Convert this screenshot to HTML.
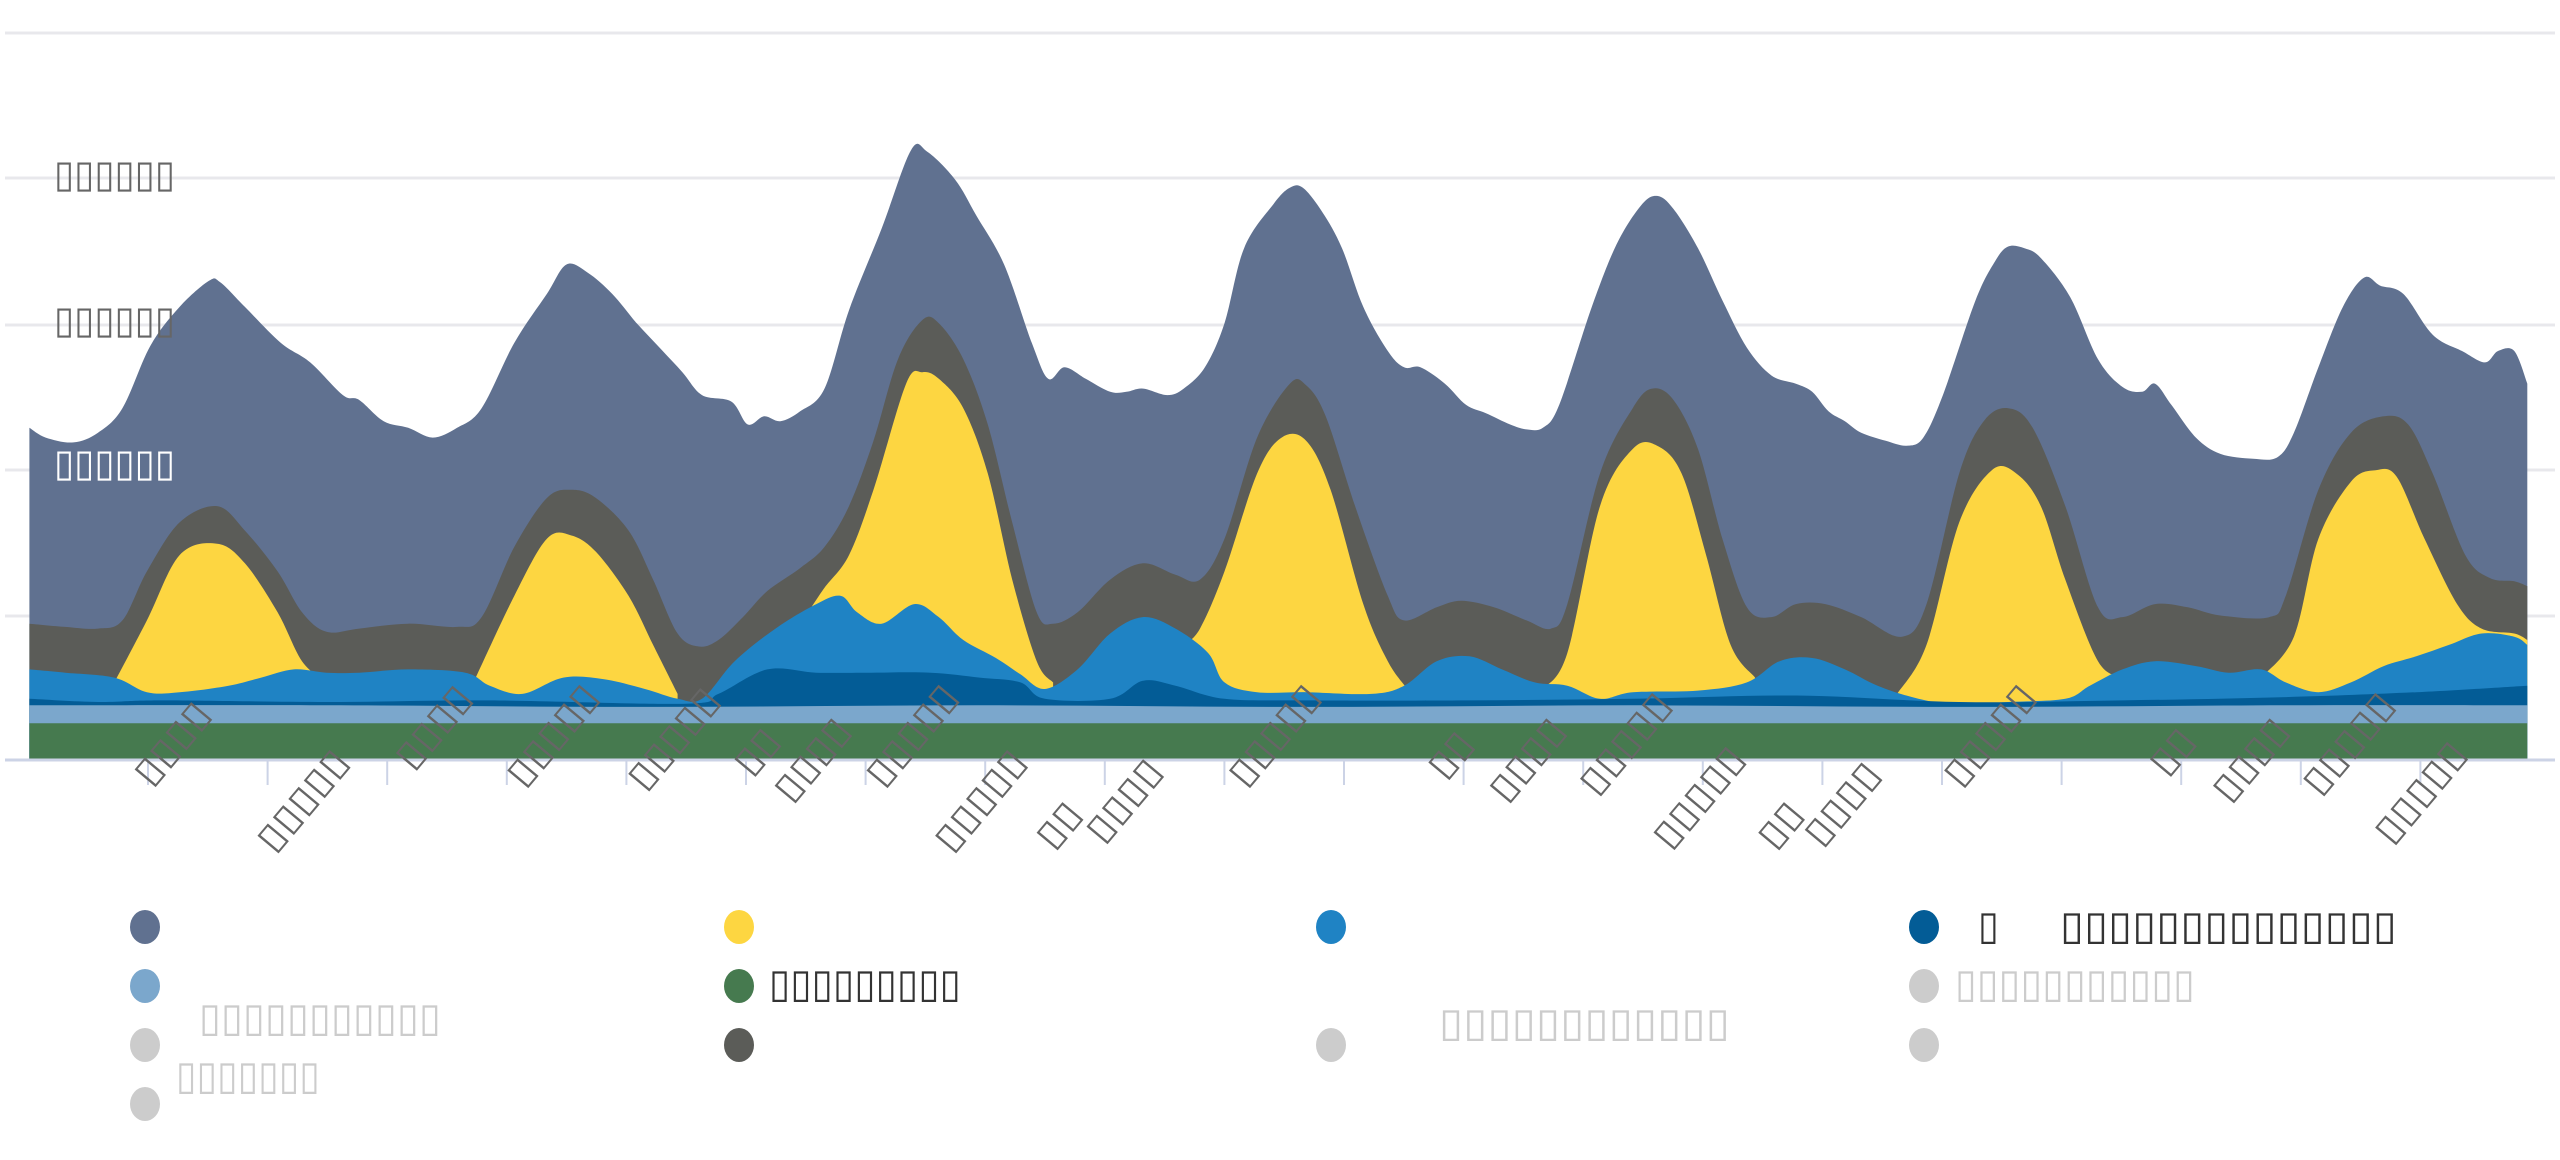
<!DOCTYPE html>
<html><head><meta charset="utf-8"><style>
html,body{margin:0;padding:0;background:#fff;width:2560px;height:1160px;overflow:hidden}
svg text{font-family:"DejaVu Sans","Liberation Sans",sans-serif}
</style></head><body>
<svg id="s" width="2560" height="1160" viewBox="0 0 2560 1160" xmlns="http://www.w3.org/2000/svg">
<g id="grid" stroke="#e8e8ec" stroke-width="3">
<line x1="5" y1="33" x2="2555" y2="33"/><line x1="5" y1="178" x2="2555" y2="178"/>
<line x1="5" y1="325" x2="2555" y2="325"/><line x1="5" y1="470" x2="2555" y2="470"/>
<line x1="5" y1="616" x2="2555" y2="616"/>
</g>
<g id="areas"></g>
<line x1="5" y1="760" x2="2555" y2="760" stroke="#ccd3e6" stroke-width="3"/>
<g id="ticks" stroke="#ccd3e6" stroke-width="2"></g>
<g fill="#666" font-size="38">
<text x="54" y="187" textLength="121" lengthAdjust="spacingAndGlyphs">▯▯▯▯▯▯</text>
<text x="54" y="333" textLength="121" lengthAdjust="spacingAndGlyphs">▯▯▯▯▯▯</text>
<text x="54" y="476" textLength="121" lengthAdjust="spacingAndGlyphs" fill="#fff">▯▯▯▯▯▯</text>
</g>
<g id="xl" fill="#666" font-size="36"></g>
<g id="legend">
<ellipse cx="145" cy="927" rx="15" ry="17" fill="#607190"/>
<ellipse cx="145" cy="986" rx="15" ry="17" fill="#7ba7cc"/>
<ellipse cx="145" cy="1045" rx="15" ry="17" fill="#ccc"/>
<ellipse cx="145" cy="1104" rx="15" ry="17" fill="#ccc"/>
<ellipse cx="739" cy="927" rx="15" ry="17" fill="#fdd641"/>
<ellipse cx="739" cy="986" rx="15" ry="17" fill="#467a4f"/>
<ellipse cx="739" cy="1045" rx="15" ry="17" fill="#5b5c58"/>
<ellipse cx="1331" cy="927" rx="15" ry="17" fill="#1f83c4"/>
<ellipse cx="1331" cy="1045" rx="15" ry="17" fill="#ccc"/>
<ellipse cx="1924" cy="927" rx="15" ry="17" fill="#035c96"/>
<ellipse cx="1924" cy="986" rx="15" ry="17" fill="#ccc"/>
<ellipse cx="1924" cy="1045" rx="15" ry="17" fill="#ccc"/>
<g font-size="40">
<text x="199" y="1031" fill="#ccc" textLength="242" lengthAdjust="spacingAndGlyphs">▯▯▯▯▯▯▯▯▯▯▯</text>
<text x="176" y="1089" fill="#ccc" textLength="144" lengthAdjust="spacingAndGlyphs">▯▯▯▯▯▯▯</text>
<text x="769" y="997" fill="#333" textLength="192" lengthAdjust="spacingAndGlyphs">▯▯▯▯▯▯▯▯▯</text>
<text x="1439" y="1036" fill="#ccc" textLength="291" lengthAdjust="spacingAndGlyphs">▯▯▯▯▯▯▯▯▯▯▯▯</text>
<text x="1978" y="939" fill="#333" textLength="21" lengthAdjust="spacingAndGlyphs">▯</text>
<text x="2060" y="939" fill="#333" textLength="337" lengthAdjust="spacingAndGlyphs">▯▯▯▯▯▯▯▯▯▯▯▯▯▯</text>
<text x="1955" y="997" fill="#ccc" textLength="240" lengthAdjust="spacingAndGlyphs">▯▯▯▯▯▯▯▯▯▯▯</text>
</g>
</g>
</svg>
<script>
var S=2560/1568,BASE=760;
function P(a){var r=[];for(var i=0;i<a.length;i+=2)r.push([a[i]*S,a[i+1]*S]);return r;}
var layers=[
["#607190",[18,262,28,268,45,271,60,265,75,250,92,212,110,188,128,172,135,173,150,188,172,210,190,222,210,242,220,245,235,258,250,262,265,268,280,262,295,250,315,210,335,180,347,162,360,167,375,180,390,198,405,214,418,228,430,242,448,246,458,260,468,255,478,258,490,252,505,238,520,190,540,140,558,92,568,93,585,110,598,132,615,162,632,210,642,232,652,225,665,232,680,240,690,240,700,238,715,242,725,238,738,225,750,198,762,152,780,125,790,115,798,115,810,130,822,152,835,188,850,215,860,225,870,225,885,235,898,248,910,253,925,260,935,263,945,262,955,248,975,188,990,150,1005,126,1015,120,1025,128,1040,152,1055,184,1070,213,1085,230,1100,235,1110,240,1120,252,1130,258,1140,265,1155,270,1168,273,1178,268,1190,242,1210,184,1222,160,1230,151,1240,152,1250,158,1268,182,1285,220,1300,237,1312,240,1320,235,1330,248,1345,268,1360,278,1380,281,1395,280,1405,265,1420,225,1435,188,1448,170,1458,175,1472,180,1490,205,1508,215,1522,222,1530,215,1540,215,1548,235]],
["#5b5c58",[18,382,40,384,60,385,75,380,90,350,110,320,133,310,150,325,170,350,185,375,200,387,220,385,250,382,280,384,295,378,315,335,335,305,350,300,365,305,385,325,400,355,415,388,428,396,440,392,455,378,470,362,490,348,505,335,520,310,535,270,550,220,565,196,575,198,590,220,605,260,620,320,635,375,645,382,660,375,680,355,700,345,720,352,735,355,750,330,770,268,790,235,800,236,812,255,830,310,850,365,860,380,880,372,895,368,915,372,935,380,950,385,960,370,980,290,1000,250,1012,238,1025,245,1040,275,1055,330,1070,372,1085,378,1100,370,1118,370,1140,378,1165,390,1180,370,1200,290,1215,258,1230,250,1245,262,1265,310,1285,372,1300,378,1320,370,1340,372,1360,377,1390,378,1400,365,1420,300,1440,265,1460,255,1475,260,1490,290,1510,340,1525,354,1540,356,1548,359]],
["#fdd641",[70,418,90,380,110,340,133,333,150,345,170,375,185,405,200,418]],
["#fdd641",[290,418,315,365,335,330,350,328,365,338,385,365,400,395,415,425]],
["#fdd641",[495,375,505,360,520,340,535,300,555,235,565,228,575,232,590,250,605,290,620,355,635,405,645,418]],
["#fdd641",[725,395,735,385,750,350,770,290,785,268,800,270,815,300,835,370,850,405,862,422]],
["#fdd641",[945,422,960,400,980,310,1000,275,1015,273,1030,290,1045,340,1060,395,1075,415]],
["#fdd641",[1162,425,1180,395,1200,320,1220,288,1235,290,1250,310,1265,355,1285,405,1300,415]],
["#fdd641",[1385,415,1405,390,1420,330,1440,295,1455,288,1468,292,1485,330,1505,370,1520,385,1540,388,1548,392]],
["#1f83c4",[18,410,40,412,70,415,90,424,110,424,140,420,160,415,180,410,200,412,220,412,250,410,285,412,300,420,320,425,345,415,370,416,395,422,415,428,430,428,450,405,475,385,500,370,515,365,525,375,540,382,560,370,575,378,590,392,610,403,625,413,640,422,660,410,680,388,700,378,720,385,740,400,750,418,770,424,800,424,840,425,860,420,880,405,900,402,920,410,940,418,960,420,980,428,1000,424,1040,423,1070,418,1090,405,1110,403,1130,410,1150,420,1175,428,1200,432,1230,430,1265,428,1280,420,1300,410,1320,405,1345,408,1365,412,1385,410,1400,418,1420,424,1440,418,1460,408,1480,402,1500,395,1520,388,1540,390,1548,395]],
["#035c96",[18,428,60,430,100,429,200,430,300,429,420,431,440,425,470,410,500,412,530,412,570,412,600,415,625,418,640,428,680,428,700,417,720,420,750,428,800,429,900,429,1000,428,1100,426,1200,430,1300,429,1400,427,1480,424,1548,420]],
["#7ba7cc",[18,432,200,432,400,433,600,432,800,433,1000,432,1200,433,1400,432,1548,432]],
["#467a4f",[18,443,1548,443]]
];
function smooth(p){var d='L'+p[0][0].toFixed(1)+','+p[0][1].toFixed(1);
for(var i=0;i<p.length-1;i++){var p0=p[i-1]||p[i],p1=p[i],p2=p[i+1],p3=p[i+2]||p2;
var c1x=p1[0]+(p2[0]-p0[0])/6,c1y=p1[1]+(p2[1]-p0[1])/6,c2x=p2[0]-(p3[0]-p1[0])/6,c2y=p2[1]-(p3[1]-p1[1])/6;
d+='C'+c1x.toFixed(1)+','+c1y.toFixed(1)+' '+c2x.toFixed(1)+','+c2y.toFixed(1)+' '+p2[0].toFixed(1)+','+p2[1].toFixed(1);}
return d;}
var g=document.getElementById('areas'),h='';
layers.forEach(function(l){var p=P(l[1]);var d='M'+p[0][0].toFixed(1)+','+BASE+smooth(p);d+='L'+p[p.length-1][0].toFixed(1)+','+BASE+'Z';h+='<path d="'+d+'" fill="'+l[0]+'"/>';});
g.innerHTML=h;
var t='';for(var x=148;x<2530;x+=119.6)t+='<line x1="'+x.toFixed(1)+'" y1="760" x2="'+x.toFixed(1)+'" y2="785"/>';
document.getElementById('ticks').innerHTML=t;
var labs=[[105,455,4],[185,490,5],[265,445,4],[338,450,5],[412,452,5],[463,460,2],[497,465,4],[558,450,5],[600,490,5],[648,505,2],[688,490,4],[780,450,5],[888,462,2],[935,465,4],[995,455,5],[1040,488,5],[1090,505,2],[1128,492,4],[1218,450,5],[1330,460,2],[1378,465,4],[1438,455,5],[1482,485,5]];
var xl='';labs.forEach(function(a){var cx=a[0]*S,cy=a[1]*S,n=a[2];var L=n*24;xl+='<text x="'+cx.toFixed(1)+'" y="'+(cy+12).toFixed(1)+'" text-anchor="middle" textLength="'+L+'" lengthAdjust="spacingAndGlyphs" transform="rotate(-50 '+cx.toFixed(1)+' '+cy.toFixed(1)+')">'+'▯'.repeat(n)+'</text>';});
document.getElementById('xl').innerHTML=xl;
</script>
</body></html>
